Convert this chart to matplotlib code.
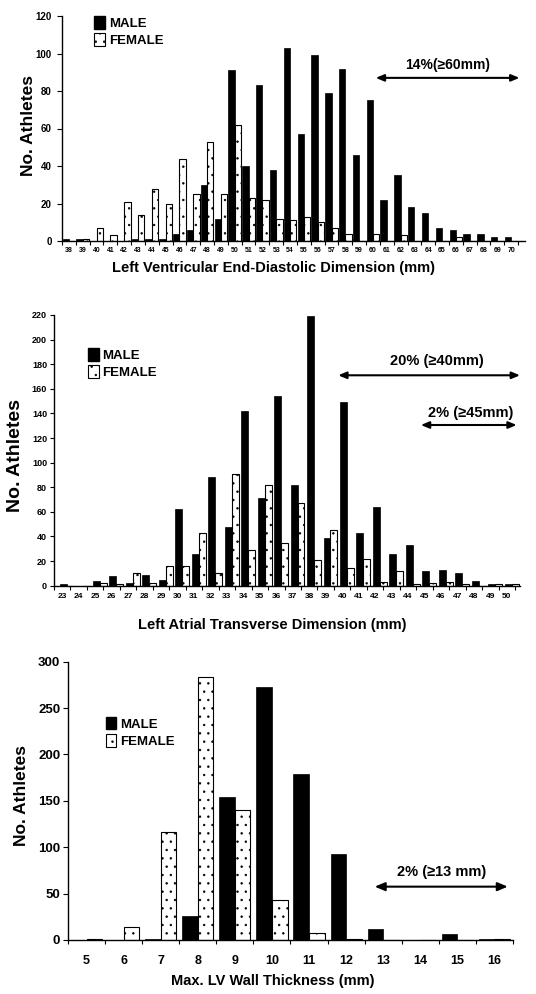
import matplotlib
matplotlib.use("Agg")
import matplotlib.pyplot as plt
import numpy as np
from matplotlib.patches import Patch

plt.rcParams['font.family'] = ['Liberation Sans', 'DejaVu Sans']
plt.rcParams['font.weight'] = 'bold'
plt.rcParams['hatch.linewidth'] = 0.5

# --- data ---
lved_mm = list(range(38, 71))
lved_male = [1, 1, 0, 0, 0, 1, 1, 1, 4, 6, 30, 12, 91, 40, 83, 38, 103, 57, 99, 79, 92,
             46, 75, 22, 35, 18, 15, 7, 6, 4, 4, 2, 2]
lved_female = [0, 1, 7, 3, 21, 14, 28, 20, 44, 25, 53, 25, 62, 23, 22, 12, 11, 13, 10, 7,
               4, 0, 4, 0, 3, 0, 0, 0, 2, 0, 0, 0, 0]

la_mm = list(range(23, 51))
la_male = [1, 0, 4, 8, 2, 9, 5, 62, 26, 88, 48, 142, 71, 154, 82, 219, 39, 149, 43, 64,
           26, 33, 12, 13, 10, 4, 1, 1]
la_female = [0, 0, 2, 1, 10, 2, 16, 16, 43, 10, 91, 29, 82, 35, 67, 21, 45, 14, 22, 3,
             12, 1, 2, 3, 1, 0, 1, 1]

wall_mm = list(range(5, 17))
wall_male = [0, 0, 1, 26, 154, 273, 179, 93, 12, 0, 7, 1]
wall_female = [1, 14, 116, 283, 140, 43, 8, 1, 0, 0, 0, 1]

W, H = 536, 994


def fx(px):
    return px / W


def fy(py):
    return 1 - py / H


def rect(l, r, t, b):
    return [fx(l), fy(b), (r - l) / W, (b - t) / H]


fig = plt.figure(figsize=(W / 100, H / 100), dpi=100)

opmale = {"color": "black", "edgecolor": "black", "linewidth": 0.5}
opfemale = {"color": "white", "edgecolor": "black", "linewidth": 0.8, "hatch": ".."}


def panel(ax, cats, male, female, xlim, ylim, yticks, width, moff, foff,
          ysize, xsize, ypad, xpad, ytl):
    x = np.array(cats)
    ax.bar(x + moff, male, width=width, **opmale)
    ax.bar(x + foff, female, width=width, **opfemale)
    ax.set_xlim(*xlim)
    ax.set_ylim(*ylim)
    ax.set_yticks(yticks)
    ax.set_xticks(x)
    ax.set_xticklabels([str(c) for c in cats], fontsize=xsize, fontweight='bold')
    ax.set_xticks(np.arange(cats[0] - 0.5, cats[-1] + 1.0, 1.0), minor=True)
    for s in ["top", "right"]:
        ax.spines[s].set_visible(False)
    for s in ["left", "bottom"]:
        ax.spines[s].set_linewidth(1.0)
    ax.tick_params(axis='x', which='major', length=0, pad=xpad)
    ax.tick_params(axis='x', which='minor', length=3, width=0.8, direction='out')
    ax.tick_params(axis='y', length=ytl, width=0.8, direction='out', pad=ypad, labelsize=ysize)
    for t in ax.get_yticklabels():
        t.set_fontweight('bold')


def legend(ax, anchor, size):
    h = [Patch(facecolor='black', edgecolor='black'),
         Patch(facecolor='white', edgecolor='black', hatch='..', linewidth=0.8)]
    ax.legend(h, ["MALE", "FEMALE"], loc='upper left', bbox_to_anchor=anchor, frameon=False,
              borderpad=0, borderaxespad=0, handlelength=0.8, handleheight=1.1,
              handletextpad=0.3, labelspacing=0.25, prop={'weight': 'bold', 'size': size})


def arrow(ax, x0, x1, y, text, tx, ty, size, ms):
    ax.annotate("", xy=(x1, y), xytext=(x0, y), annotation_clip=False,
                arrowprops=dict(arrowstyle="<|-|>,head_length=0.6,head_width=0.25",
                                color='black', lw=1.5, mutation_scale=ms,
                                shrinkA=0, shrinkB=0))
    ax.text(tx, ty, text, ha='center', va='center', fontsize=size, fontweight='bold',
            clip_on=False)


# Panel 1: LV end-diastolic dimension
ax1 = fig.add_axes(rect(62, 525, 16, 241))
panel(ax1, lved_mm, lved_male, lved_female, (37.5, 71.0), (0, 120), range(0, 121, 20),
      0.46, -0.23, 0.23, 7, 5, 4, 4, 3.5)
legend(ax1, (0.07, 1.0), 9.5)
arrow(ax1, 60.2, 70.6, 87, "14%(≥60mm)", 65.4, 94, 10, 8)
fig.text(fx(29), fy(126), "No. Athletes", rotation=90, ha='center', va='center',
         fontsize=12.5, fontweight='bold')
fig.text(fx(273), fy(268), "Left Ventricular End-Diastolic Dimension (mm)", ha='center',
         va='center', fontsize=10.5, fontweight='bold')

# Panel 2: LA transverse dimension
ax2 = fig.add_axes(rect(54, 520, 315, 585.7))
panel(ax2, la_mm, la_male, la_female, (22.53, 50.8), (0, 220), range(0, 221, 20),
      0.42, 0.08, 0.5, 6.5, 6, 2, 5.5, 3)
legend(ax2, (0.073, 0.878), 9.5)
arrow(ax2, 39.76, 50.8, 171, "20% (≥40mm)", 45.75, 182.5, 10.5, 8)
arrow(ax2, 44.78, 50.6, 130.6, "2% (≥45mm)", 47.8, 140.5, 10.5, 8)
fig.text(fx(16), fy(456), "No. Athletes", rotation=90, ha='center', va='center',
         fontsize=14, fontweight='bold')
fig.text(fx(272), fy(625), "Left Atrial Transverse Dimension (mm)", ha='center',
         va='center', fontsize=10.5, fontweight='bold')

# Panel 3: max LV wall thickness
ax3 = fig.add_axes(rect(68, 513, 661.7, 940))
panel(ax3, wall_mm, wall_male, wall_female, (4.5, 16.5), (0, 300), range(0, 301, 50),
      0.42, -0.21, 0.21, 9.5, 9, 2, 11, 3.6)
legend(ax3, (0.085, 0.802), 9.5)
arrow(ax3, 12.77, 16.36, 57.5, "2% (≥13 mm)", 14.57, 73.6, 10.5, 10)
fig.text(fx(22), fy(796), "No. Athletes", rotation=90, ha='center', va='center',
         fontsize=12.5, fontweight='bold')
fig.text(fx(273), fy(981), "Max. LV Wall Thickness (mm)", ha='center', va='center',
         fontsize=10.5, fontweight='bold')

fig.savefig("out.png", dpi=100)
